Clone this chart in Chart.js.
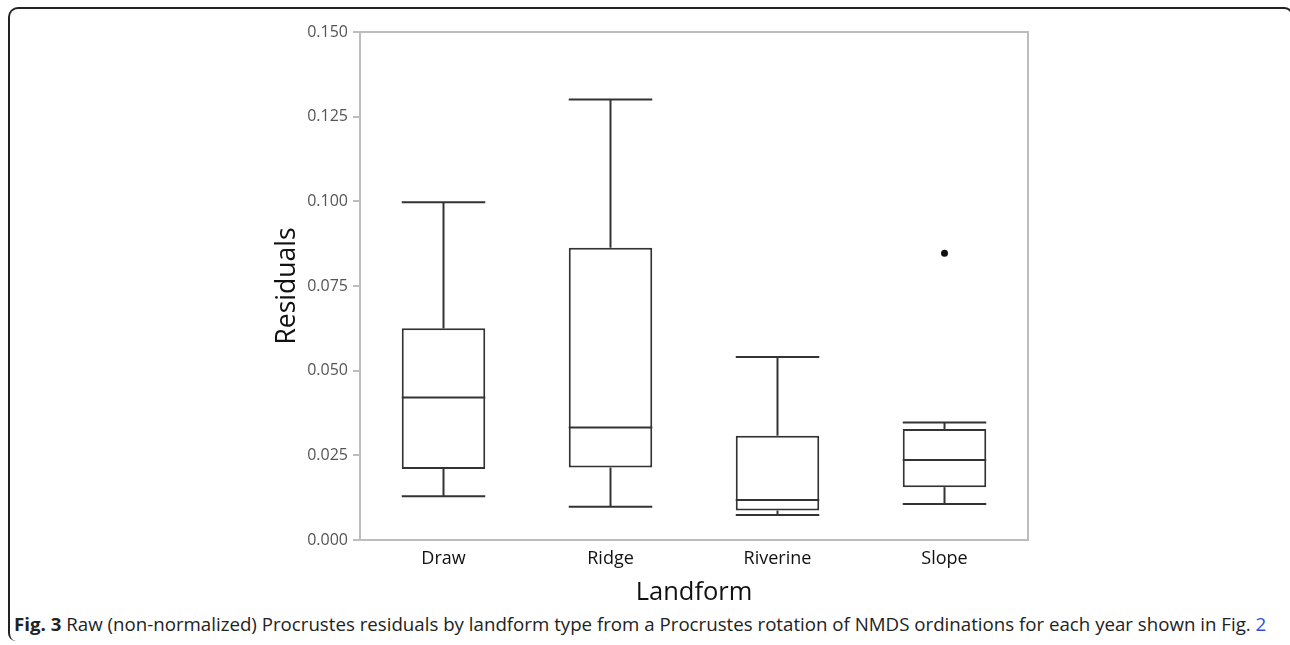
<!DOCTYPE html>
<html>
<head>
<meta charset="utf-8">
<script src="https://cdn.jsdelivr.net/npm/chart.js@4.4.0/dist/chart.umd.min.js"></script>
<style>
  html, body { margin: 0; padding: 0; background: #fff; }
  body { width: 1290px; height: 645px; position: relative; overflow: hidden; }
  #frame {
    position: absolute; left: 8px; top: 7px; width: 1282px; height: 632px;
    border: 2px solid #222; border-bottom: none;
    border-radius: 10px 10px 0 8px;
  }
  #wrap { position: absolute; left: 0; top: 0; width: 1290px; height: 612px; }
  #caption {
    position: absolute; left: 14px; top: 612px; white-space: nowrap;
    font-family: "Open Sans", sans-serif; font-size: 18px; color: #222;
    transform-origin: 0 0;
  }
  #caption b { font-weight: 700; }
  #caption a { color: #2a50d8; text-decoration: none; }
</style>
</head>
<body>
<div id="frame"></div>
<div id="wrap"><canvas id="boxChart"></canvas></div>
<div id="caption"><b>Fig. 3</b> Raw (non-normalized) Procrustes residuals by landform type from a Procrustes rotation of NMDS ordinations for each year shown in Fig. <a>2</a></div>
<script>
const landforms = ["Draw", "Ridge", "Riverine", "Slope"];
const whiskerLow = [0.0129, 0.0098, 0.0074, 0.0106];
const q1 = [0.0210, 0.0214, 0.0087, 0.0156];
const median = [0.0421, 0.0332, 0.0118, 0.0236];
const q3 = [0.0625, 0.0863, 0.0308, 0.0328];
const whiskerHigh = [0.0997, 0.1301, 0.0540, 0.0347];
const outliers = [null, null, null, 0.0847];
const yTicks = [0, 0.025, 0.05, 0.075, 0.1, 0.125, 0.15];

const lineColor = '#333';
const frameColor = '#bdbdbd';

// whiskers, caps, medians and the plot frame
const boxExtras = {
    id: 'boxExtras',
    afterDatasetsDraw(chart) {
        const ctx = chart.ctx;
        const x = chart.scales.x;
        const y = chart.scales.y;
        const bars = chart.getDatasetMeta(0).data;
        ctx.save();
        ctx.strokeStyle = lineColor;
        ctx.lineWidth = 2;
        landforms.forEach((name, i) => {
            const cx = x.getPixelForValue(i);
            const half = bars[i].width / 2;
            const seg = (x1, y1, x2, y2) => {
                ctx.beginPath();
                ctx.moveTo(x1, y1);
                ctx.lineTo(x2, y2);
                ctx.stroke();
            };
            // stems
            seg(cx, y.getPixelForValue(q3[i]), cx, y.getPixelForValue(whiskerHigh[i]));
            seg(cx, y.getPixelForValue(q1[i]), cx, y.getPixelForValue(whiskerLow[i]));
            // caps
            seg(cx - half, y.getPixelForValue(whiskerHigh[i]), cx + half, y.getPixelForValue(whiskerHigh[i]));
            seg(cx - half, y.getPixelForValue(whiskerLow[i]), cx + half, y.getPixelForValue(whiskerLow[i]));
            // median
            seg(cx - half, y.getPixelForValue(median[i]), cx + half, y.getPixelForValue(median[i]));
        });
        const a = chart.chartArea;
        ctx.strokeStyle = frameColor;
        ctx.beginPath();
        ctx.moveTo(a.left, a.top);
        ctx.lineTo(a.right, a.top);
        ctx.lineTo(a.right, a.bottom);
        ctx.stroke();
        ctx.restore();
    }
};

new Chart(document.getElementById('boxChart').getContext('2d'), {
    type: 'bar',
    data: {
        labels: landforms,
        datasets: [
            {
                label: 'IQR',
                data: q1.map((v, i) => [v, q3[i]]),
                backgroundColor: '#fff',
                borderColor: lineColor,
                borderWidth: 2,
                borderSkipped: false,
                barPercentage: 0.5,
                categoryPercentage: 1
            },
            {
                label: 'Outliers',
                type: 'line',
                data: outliers,
                showLine: false,
                pointRadius: 3.5,
                pointBackgroundColor: '#111',
                pointBorderColor: '#111',
                pointBorderWidth: 0
            }
        ]
    },
    options: {
        responsive: true,
        maintainAspectRatio: false,
        animation: false,
        layout: { padding: { top: 32, right: 262, left: 268, bottom: 0 } },
        plugins: { legend: { display: false }, tooltip: { enabled: false } },
        scales: {
            x: {
                grid: { display: false },
                border: { display: true, color: frameColor, width: 2 },
                ticks: { color: '#111', font: { family: 'Open Sans', size: 18 }, padding: 0 },
                title: {
                    display: true, text: 'Landform', color: '#111',
                    font: { family: 'Open Sans', size: 25.5 }, padding: { top: 0 }
                },
                afterFit: s => { s.height = 72; }
            },
            y: {
                min: 0,
                max: 0.15,
                afterBuildTicks: s => { s.ticks = yTicks.map(v => ({ value: v })); },
                grid: { drawOnChartArea: false, drawTicks: true, tickLength: 7, color: frameColor, lineWidth: 2 },
                border: { display: true, color: frameColor, width: 2 },
                ticks: {
                    color: '#555', font: { family: 'Open Sans', size: 16 }, padding: 5,
                    callback: v => v.toFixed(3)
                },
                title: {
                    display: true, text: 'Residuals', color: '#111',
                    font: { family: 'Open Sans', size: 26.5 }, padding: { bottom: 6 }
                },
                afterFit: s => { s.width = 92; }
            }
        }
    },
    plugins: [boxExtras]
});

// stretch the caption to the width of the reference line
const cap = document.getElementById('caption');
const targetWidth = 1252;
cap.style.transform = 'scaleX(' + (targetWidth / cap.offsetWidth) + ')';
</script>
</body>
</html>
